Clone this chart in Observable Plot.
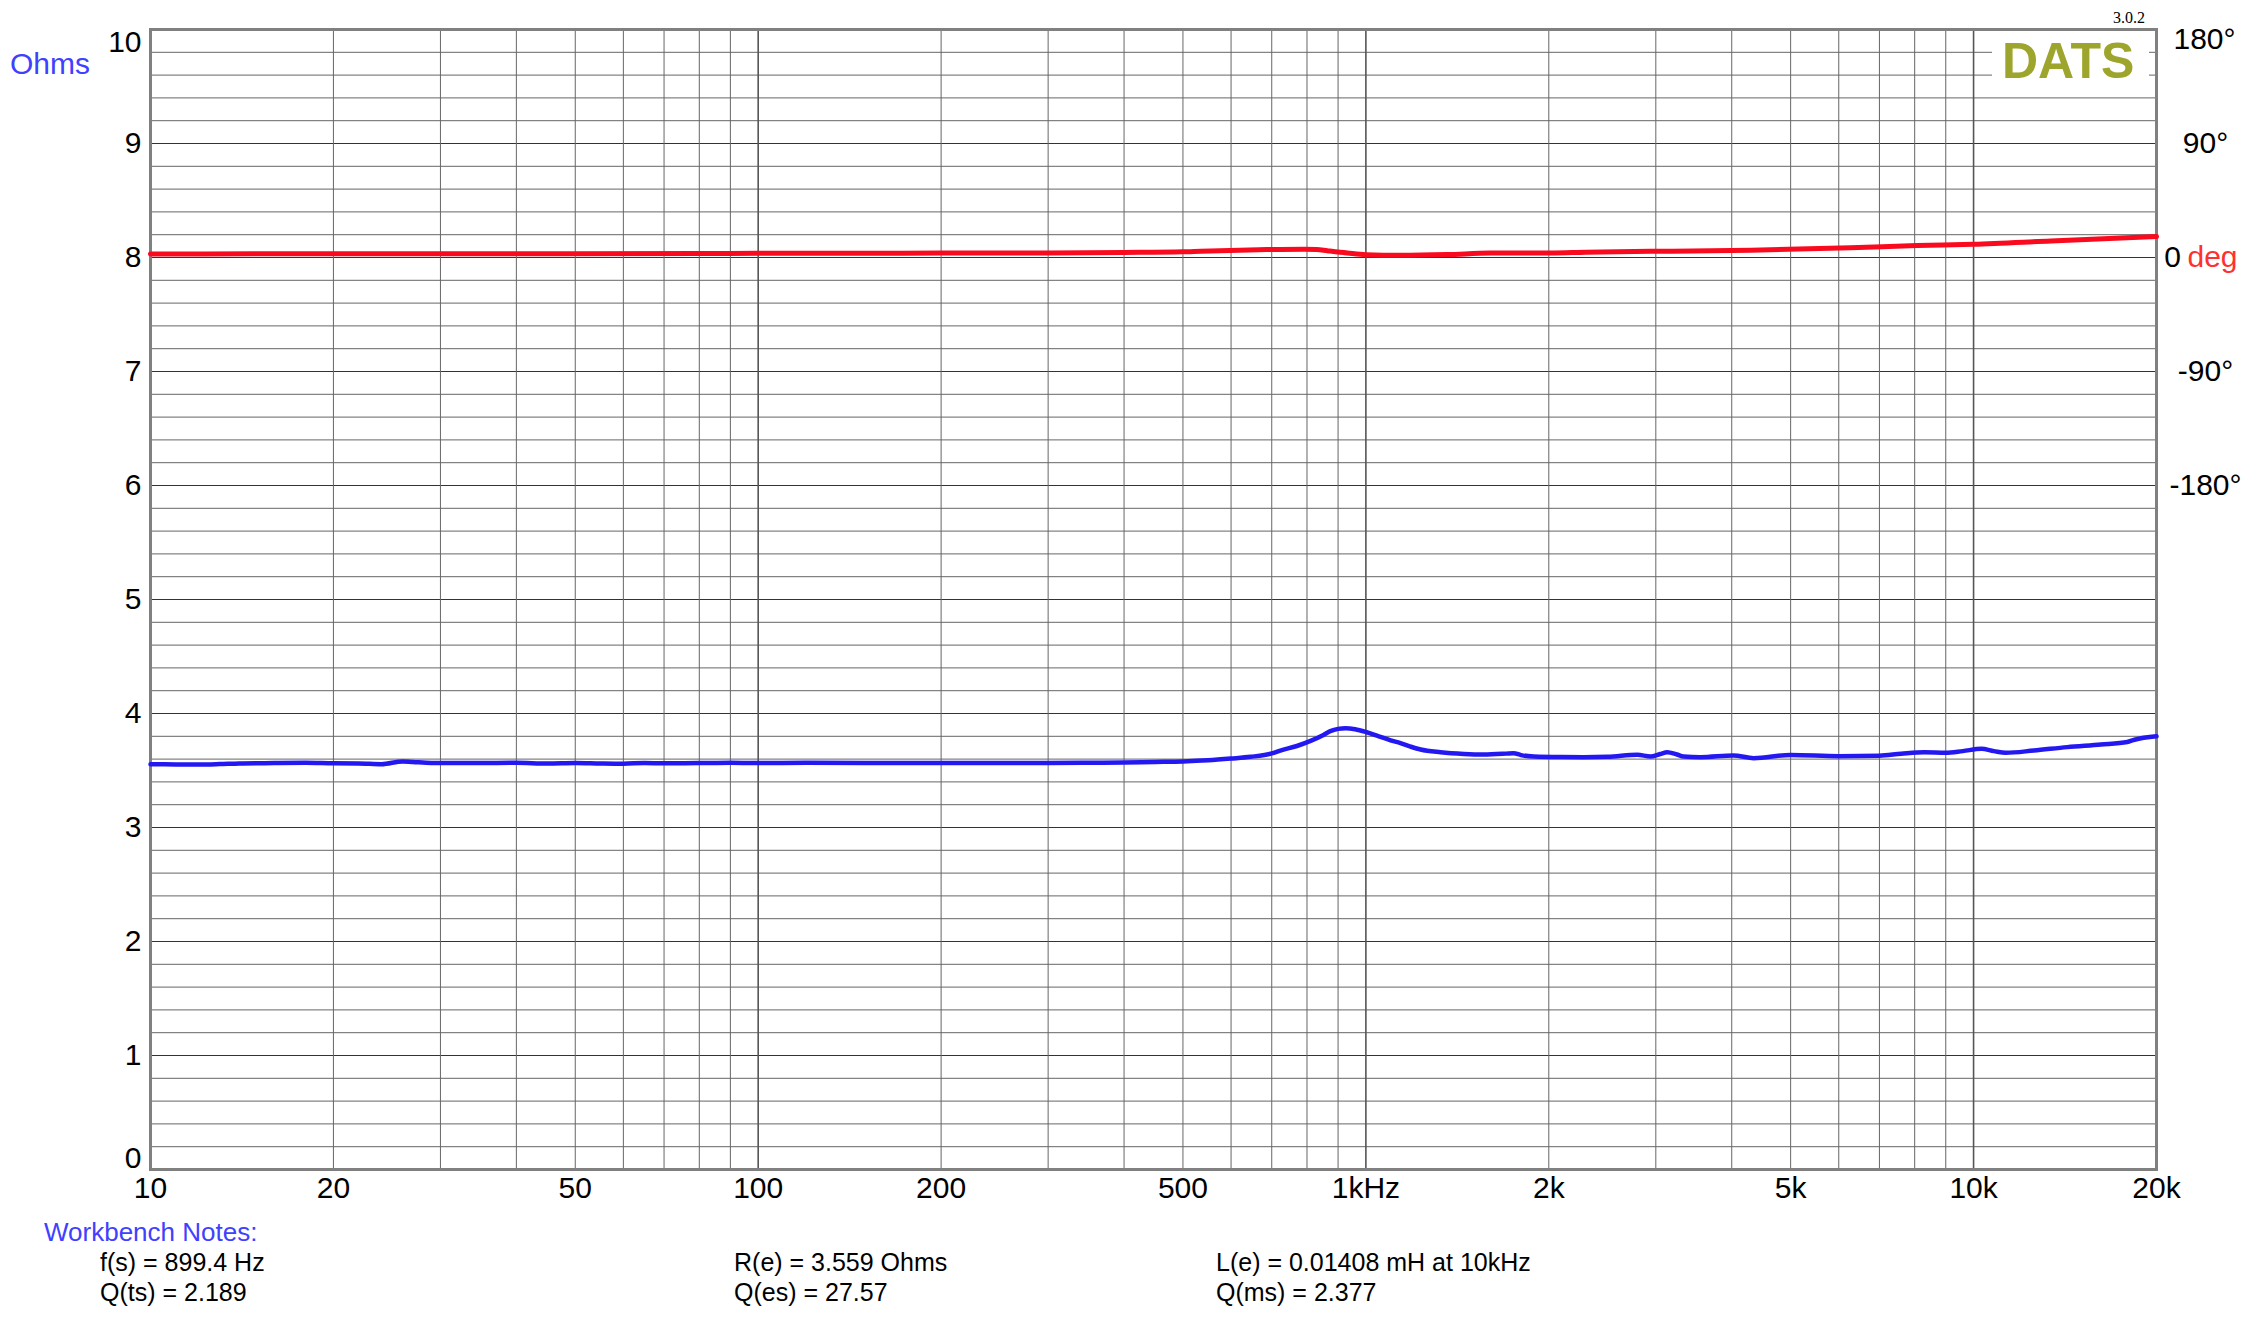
<!DOCTYPE html>
<html>
<head>
<meta charset="utf-8">
<script src="https://cdn.jsdelivr.net/npm/d3@7"></script>
<script src="https://cdn.jsdelivr.net/npm/@observablehq/plot@0.6"></script>
<style>
  html, body { margin: 0; padding: 0; background: #fff; }
  #wrap { position: relative; width: 2248px; height: 1328px; font-family: "Liberation Sans", Arial, sans-serif; overflow: hidden; }
  #wrap svg { position: absolute; left: 0; top: 0; }
  .ov { position: absolute; line-height: 1; white-space: nowrap; }
</style>
</head>
<body>
<div id="wrap"></div>
<script>
// ---- Data ----
// Impedance magnitude (Ohms) vs frequency (Hz)
const zFreq = [10,11,12,13,14,16,18,20,22,24,26,27,29,32,36,40,45,50,55,60,65,70,80,90,100,120,150,200,250,300,350,400,450,500,550,600,646,700,723,770,811,850,874,900,926,960,1000,1050,1098,1140,1184,1230,1327,1450,1562,1700,1750,1800,1888,2100,2281,2500,2797,2940,3050,3133,3250,3333,3553,4027,4347,5000,6000,7000,7600,8300,9000,9600,10300,10800,11300,12560,14260,16200,17900,18400,20000];
const zOhms = [3.555,3.553,3.552,3.556,3.562,3.565,3.567,3.563,3.562,3.555,3.58,3.575,3.566,3.565,3.566,3.568,3.561,3.566,3.562,3.56,3.566,3.563,3.566,3.567,3.566,3.567,3.566,3.566,3.566,3.566,3.568,3.57,3.575,3.58,3.59,3.605,3.62,3.65,3.675,3.715,3.76,3.81,3.845,3.865,3.871,3.862,3.838,3.80,3.765,3.74,3.71,3.684,3.66,3.645,3.64,3.648,3.652,3.635,3.623,3.618,3.617,3.62,3.638,3.623,3.645,3.66,3.64,3.623,3.617,3.632,3.608,3.637,3.626,3.63,3.647,3.66,3.655,3.67,3.69,3.67,3.655,3.675,3.705,3.728,3.75,3.77,3.80];
// Phase (degrees) vs frequency (Hz)
const pFreq = [10,15,20,30,50,80,100,150,200,300,400,500,535,666,791,830,864,932,1000,1140,1362,1603,2014,2300,2940,3200,4300,6270,8070,10000,13400,20000];
const pDeg = [2.8,2.9,3.0,3.0,3.0,3.2,3.3,3.4,3.5,3.6,4.0,4.5,5.0,6.1,6.6,6.4,5.4,3.6,2.2,1.7,2.3,3.5,3.6,4.2,4.9,5.0,5.7,7.6,9.4,10.5,13.1,16.5];

// Axes / grid
const xTicks = [10,20,50,100,200,500,1000,2000,5000,10000,20000];
const xTickLabels = ["10","20","50","100","200","500","1kHz","2k","5k","10k","20k"];
const gridFreqs = [20,30,40,50,60,70,80,90,200,300,400,500,600,700,800,900,2000,3000,4000,5000,6000,7000,8000,9000];
const decadeFreqs = [100,1000,10000];
const ohmTicks = [1,2,3,4,5,6,7,8,9];
const ohmMinor = d3.range(0, 10.001, 0.2).map(v => +v.toFixed(1)).filter(v => Math.abs(v - Math.round(v)) > 1e-6);
const phaseTicks = [180, 90, -90, -180];
const phaseTickLabels = ["180°", "90°", "-90°", "-180°"];
const notesLeft = ["f(s) = 899.4 Hz", "Q(ts) = 2.189"];
const notesMid = ["R(e) = 3.559 Ohms", "Q(es) = 27.57"];
const notesRight = ["L(e) = 0.01408 mH at 10kHz", "Q(ms) = 2.377"];

const imp = zFreq.map((f, i) => ({f, v: zOhms[i]}));
const phase = pFreq.map((f, i) => ({f, deg: pDeg[i]}));
const ph2y = d => 8 + d / 90;

const FONT = "Liberation Sans, Arial, sans-serif";
const BLUE = "#2418f2";
const RED = "#fa0a1e";

const chart = Plot.plot({
  width: 2248,
  height: 1215,
  marginLeft: 150,
  marginRight: 92,
  marginTop: 29,
  marginBottom: 46,
  style: {fontFamily: FONT, background: "transparent", overflow: "visible"},
  x: {type: "log", domain: [10, 20000], axis: null},
  y: {domain: [0, 10], axis: null},
  marks: [
    Plot.ruleY(ohmMinor, {stroke: "#666", strokeWidth: 1}),
    Plot.ruleY(ohmTicks, {stroke: "#333", strokeWidth: 1.2}),
    Plot.ruleX(gridFreqs, {stroke: "#666", strokeWidth: 1}),
    Plot.ruleX(decadeFreqs, {stroke: "#555", strokeWidth: 1.6}),
    Plot.frame({stroke: "#808080", strokeWidth: 3}),
    Plot.line(phase, {x: "f", y: d => ph2y(d.deg), stroke: RED, strokeWidth: 5, curve: "monotone-x"}),
    Plot.line(imp, {x: "f", y: "v", stroke: BLUE, strokeWidth: 4.5, curve: "monotone-x"}),
    // x tick labels
    Plot.text(xTicks, {x: d => d, frameAnchor: "bottom", dy: 19, lineAnchor: "middle", text: (d, i) => xTickLabels[i], fontSize: 30, fill: "#000"}),
    // left tick labels
    Plot.text(ohmTicks, {y: d => d, frameAnchor: "left", dx: -9, textAnchor: "end", lineAnchor: "middle", text: d => String(d), fontSize: 30, fill: "#000"}),
    Plot.text([10], {y: d => d, frameAnchor: "left", dx: -9, dy: 13, textAnchor: "end", lineAnchor: "middle", text: d => String(d), fontSize: 30, fill: "#000"}),
    Plot.text([0], {y: d => d, frameAnchor: "left", dx: -9, dy: -11, textAnchor: "end", lineAnchor: "middle", text: d => String(d), fontSize: 30, fill: "#000"}),
    // right (phase) tick labels
    Plot.text(phaseTicks.filter(d => d !== 180), {y: d => ph2y(d), frameAnchor: "right", dx: 49, textAnchor: "middle", lineAnchor: "middle", text: d => phaseTickLabels[phaseTicks.indexOf(d)], fontSize: 30, fill: "#000"}),
    Plot.text([180], {y: d => ph2y(d), frameAnchor: "right", dx: 48, dy: 10, textAnchor: "middle", lineAnchor: "middle", text: d => phaseTickLabels[phaseTicks.indexOf(d)], fontSize: 30, fill: "#000"}),
    Plot.text([0], {y: d => ph2y(d), frameAnchor: "right", dx: 16, textAnchor: "middle", lineAnchor: "middle", text: ["0"], fontSize: 30, fill: "#000"}),
    Plot.text([0], {y: d => ph2y(d), frameAnchor: "right", dx: 31, textAnchor: "start", lineAnchor: "middle", text: ["deg"], fontSize: 30, fill: "#ff3030"})
  ]
});

const wrap = document.getElementById("wrap");
wrap.appendChild(chart);

function ov(text, css) {
  const d = document.createElement("div");
  d.className = "ov";
  d.textContent = text;
  Object.assign(d.style, css);
  wrap.appendChild(d);
  return d;
}
// white box behind logo
const box = document.createElement("div");
Object.assign(box.style, {position: "absolute", left: "1992px", top: "35px", width: "157px", height: "55px", background: "#fff"});
wrap.appendChild(box);
ov("DATS", {left: "2002px", top: "36px", fontSize: "50px", fontWeight: "bold", color: "#9ea52c"});
ov("3.0.2", {left: "2113px", top: "10px", fontSize: "16px", fontFamily: "Liberation Serif, Times New Roman, serif", color: "#000"});
ov("Ohms", {left: "10px", top: "49px", fontSize: "30px", color: "#4040ff"});
ov("Workbench Notes:", {left: "44px", top: "1219px", fontSize: "26px", color: "#4040ff"});
notesLeft.forEach((t, i) => ov(t, {left: "100px", top: (1250 + i * 30) + "px", fontSize: "25px", color: "#000"}));
notesMid.forEach((t, i) => ov(t, {left: "734px", top: (1250 + i * 30) + "px", fontSize: "25px", color: "#000"}));
notesRight.forEach((t, i) => ov(t, {left: "1216px", top: (1250 + i * 30) + "px", fontSize: "25px", color: "#000"}));
</script>
</body>
</html>
